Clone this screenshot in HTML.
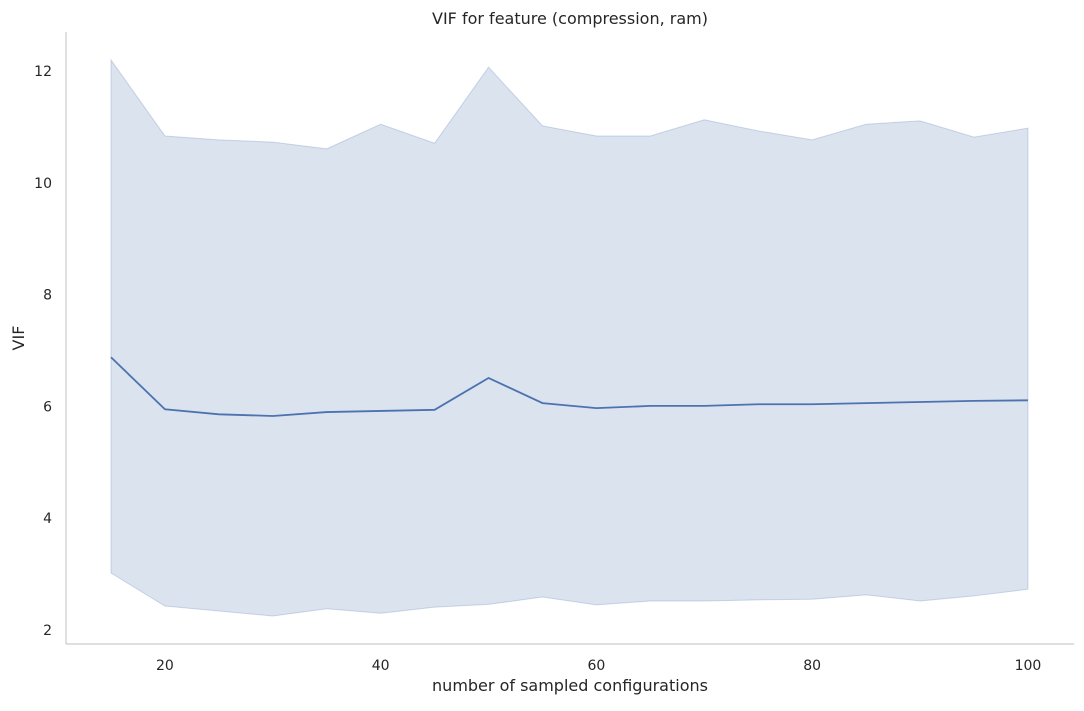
<!DOCTYPE html>
<html><head><meta charset="utf-8"><style>
body{margin:0;background:#fff;}
svg text{font-family:"DejaVu Sans","Liberation Sans",sans-serif;fill:#262626;}
</style></head><body>
<svg width="1084" height="706" xmlns="http://www.w3.org/2000/svg">
<g id="plot"></g>
</svg>
<script>
const xs=[15,20,25,30,35,40,45,50,55,60,65,70,75,80,85,90,95,100];
const meanVals=[6.88,5.95,5.86,5.83,5.90,5.92,5.94,6.51,6.06,5.97,6.01,6.01,6.04,6.04,6.06,6.08,6.10,6.11];
const upperVals=[12.20,10.84,10.77,10.73,10.61,11.05,10.71,12.07,11.02,10.84,10.84,11.13,10.93,10.77,11.05,11.11,10.82,10.98];
const lowerVals=[3.02,2.43,2.34,2.25,2.38,2.30,2.41,2.46,2.59,2.45,2.52,2.52,2.54,2.55,2.63,2.52,2.61,2.73];
const xTicks=[20,40,60,80,100];
const yTicks=[2,4,6,8,10,12];

const NS="http://www.w3.org/2000/svg";
const g=document.getElementById('plot');
const L=66,R=1074,T=32,B=644;
const x0=10.83,x1=104.27,y0=1.75,y1=12.70;
const sx=v=>L+(v-x0)/(x1-x0)*(R-L);
const sy=v=>B-(v-y0)/(y1-y0)*(B-T);
function mk(t,a,txt){const e=document.createElementNS(NS,t);for(const k in a)e.setAttribute(k,a[k]);if(txt!==undefined)e.textContent=txt;g.appendChild(e);return e;}

let d=xs.map((x,i)=>(i?'L':'M')+sx(x)+','+sy(upperVals[i])).join('');
for(let i=xs.length-1;i>=0;i--)d+='L'+sx(xs[i])+','+sy(lowerVals[i]);
const band=mk('path',{d:d+'Z',fill:'rgba(76,114,176,0.2)',stroke:'rgba(76,114,176,0.25)','stroke-width':1});


const line=mk('path',{d:xs.map((x,i)=>(i?'L':'M')+sx(x)+','+sy(meanVals[i])).join(''),fill:'none',stroke:'#4c72b0','stroke-width':1.8});



const ax=mk('line',{x1:L,y1:T,x2:L,y2:B,stroke:'#cccccc','stroke-width':1.2});


const bx=mk('line',{x1:L,y1:B,x2:R,y2:B,stroke:'#cccccc','stroke-width':1.2});



xTicks.forEach(v=>{const t=mk('text',{x:sx(v),y:670,'font-size':14,'text-anchor':'middle'},v);

});
yTicks.forEach(v=>{const t=mk('text',{x:52,y:sy(v)+5,'font-size':14,'text-anchor':'end'},v);

});

const ti=mk('text',{x:570,y:24,'font-size':16,'text-anchor':'middle'},'VIF for feature (compression, ram)');


const xl=mk('text',{x:570,y:691,'font-size':16,'text-anchor':'middle'},'number of sampled configurations');


const yl=mk('text',{x:24,y:338,'font-size':16,'text-anchor':'middle',transform:'rotate(-90 24 338)'},'VIF');


</script>
</body></html>
